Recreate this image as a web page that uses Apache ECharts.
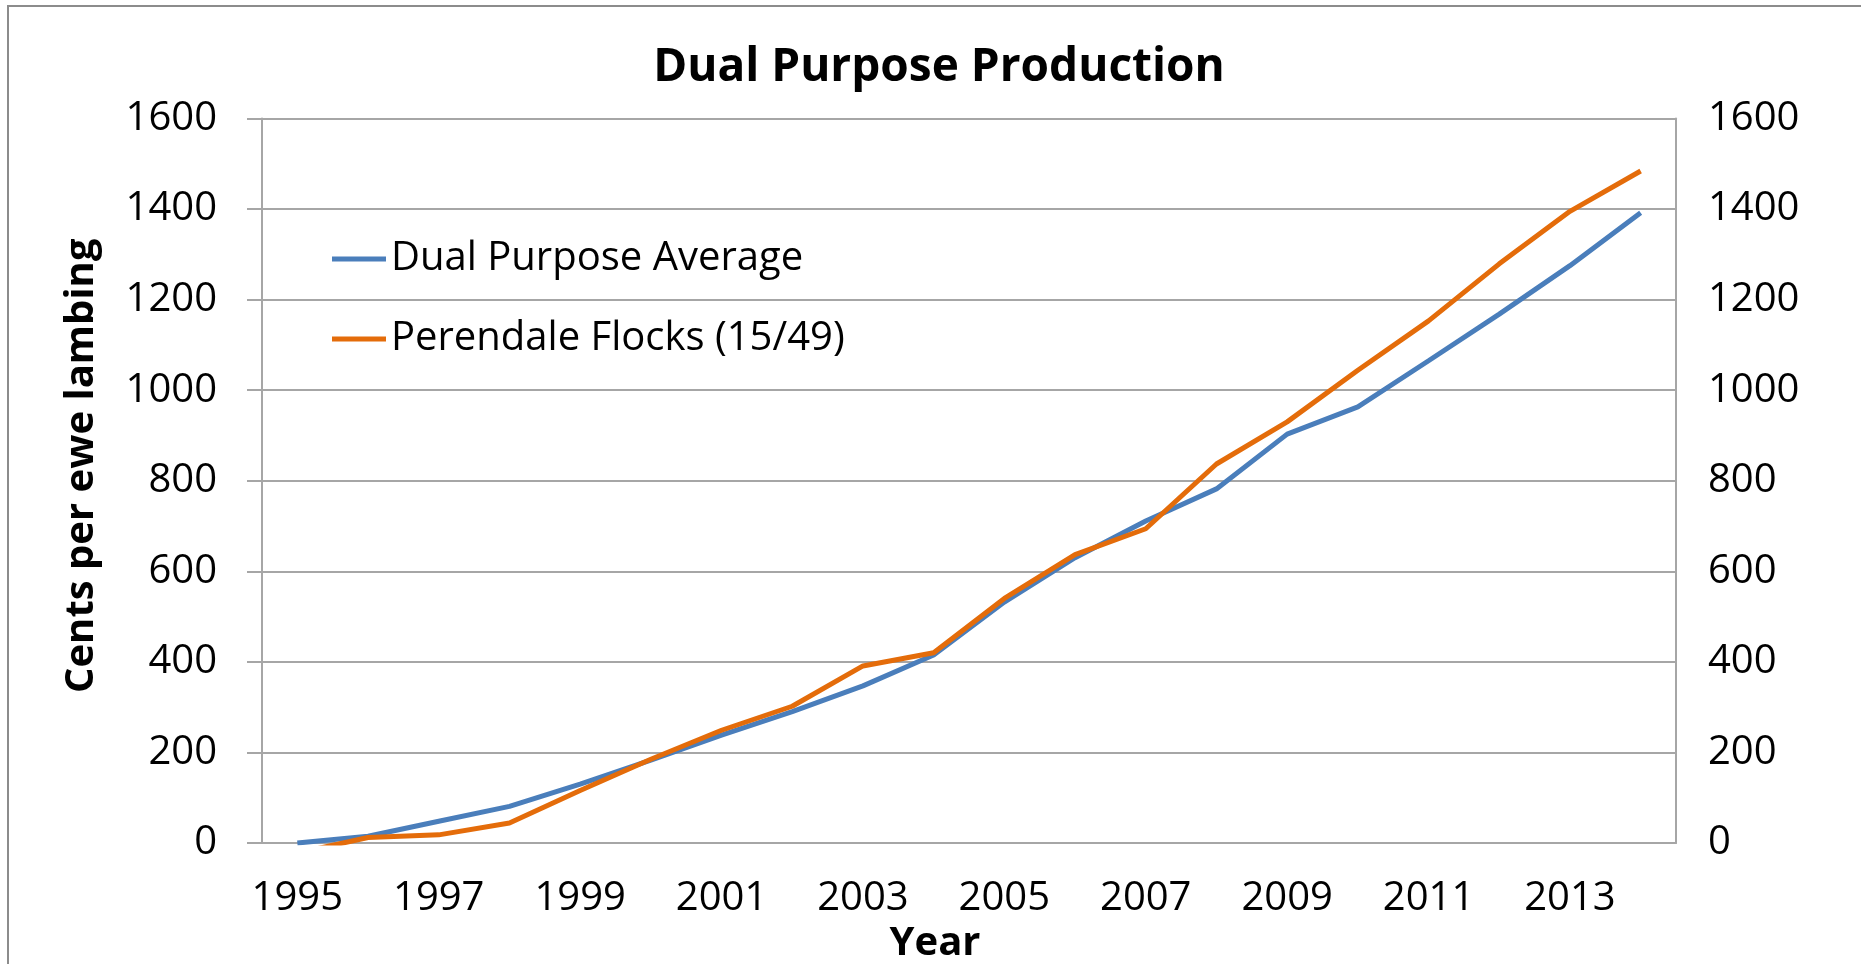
<!DOCTYPE html>
<html>
<head>
<meta charset="utf-8">
<title>Dual Purpose Production</title>
<script src="https://cdn.jsdelivr.net/npm/echarts@6/dist/echarts.min.js"></script>
<style>
  html, body { margin: 0; padding: 0; background: #fff; }
  #myChart { width: 1861px; height: 964px; }
</style>
</head>
<body>
<div id="myChart"></div>
<script>
  var years = ['1995', '1996', '1997', '1998', '1999', '2000', '2001', '2002', '2003', '2004',
    '2005', '2006', '2007', '2008', '2009', '2010', '2011', '2012', '2013', '2014'];
  var dualPurposeAvg = [0, 15, 48, 81, 130, 183, 238, 290, 347, 415,
    532, 630, 711, 782, 903, 963, 1065, 1168, 1275, 1392];
  // first point sits just under the axis, the line is clipped at 0
  var perendaleFlocks = [-22, 12, 18, 44, 116, 185, 249, 302, 391, 420,
    540, 637, 694, 837, 930, 1044, 1153, 1279, 1395, 1484];
  var yTicks = [0, 200, 400, 600, 800, 1000, 1200, 1400, 1600];

  var font = '"Open Sans"';
  var gridColor = '#a6a6a6';

  // plain numbers, no thousands separator
  function plain(v) { return String(v); }

  var myChart = echarts.init(document.getElementById('myChart'));
  var option = {
    backgroundColor: '#fff',
    animation: false,
    title: {
      text: 'Dual Purpose Production',
      left: 934,
      textAlign: 'center',
      top: 40,
      textStyle: { fontFamily: font, fontWeight: 'bold', fontSize: 46, color: '#000' }
    },
    graphic: [{
      type: 'rect',
      shape: { x: 8, y: 6, width: 1900, height: 1000 },
      style: { fill: 'none', stroke: '#8c8c8c', lineWidth: 2 },
      silent: true
    }],
    legend: {
      orient: 'vertical',
      left: 327,
      top: 233,
      icon: 'rect',
      itemWidth: 54,
      itemHeight: 5,
      itemGap: 38,
      data: ['Dual Purpose Average', 'Perendale Flocks (15/49)'],
      textStyle: { fontFamily: font, fontSize: 40, color: '#000', lineHeight: 42 }
    },
    grid: {
      left: 262,
      right: 185,
      top: 118.5,
      bottom: 121,
      outerBoundsMode: 'none',
      containLabel: false
    },
    xAxis: {
      type: 'category',
      data: years,
      boundaryGap: true,
      name: 'Year',
      nameLocation: 'middle',
      nameGap: 66,
      nameTextStyle: { fontFamily: font, fontWeight: 'bold', fontSize: 40, color: '#000', padding: [0, 68, 0, 0] },
      axisLine: { show: true, lineStyle: { color: gridColor, width: 2 } },
      axisTick: { show: false },
      axisLabel: { interval: 1, margin: 36, fontFamily: font, fontSize: 40, color: '#000' }
    },
    yAxis: [{
      type: 'value',
      position: 'left',
      min: yTicks[0],
      max: yTicks[yTicks.length - 1],
      interval: 200,
      name: 'Cents per ewe lambing',
      nameLocation: 'middle',
      nameGap: 160,
      nameTextStyle: { fontFamily: font, fontWeight: 'bold', fontSize: 40, color: '#000', padding: [0, 0, 0, 30] },
      axisLine: { show: true, lineStyle: { color: gridColor, width: 2 } },
      axisTick: { show: true, inside: false, length: 15, lineStyle: { color: gridColor, width: 2 } },
      splitLine: { show: true, lineStyle: { color: gridColor, width: 2 } },
      axisLabel: { margin: 45, fontFamily: font, fontSize: 40, color: '#000', formatter: plain }
    }, {
      type: 'value',
      position: 'right',
      min: yTicks[0],
      max: yTicks[yTicks.length - 1],
      interval: 200,
      axisLine: { show: true, lineStyle: { color: gridColor, width: 2 } },
      axisTick: { show: false },
      splitLine: { show: false },
      axisLabel: { margin: 32, fontFamily: font, fontSize: 40, color: '#000', formatter: plain }
    }],
    series: [{
      name: 'Dual Purpose Average',
      type: 'line',
      data: dualPurposeAvg,
      symbol: 'none',
      clip: true,
      itemStyle: { color: '#4a7ebb' },
      lineStyle: { color: '#4a7ebb', width: 5 }
    }, {
      name: 'Perendale Flocks (15/49)',
      type: 'line',
      data: perendaleFlocks,
      symbol: 'none',
      clip: true,
      itemStyle: { color: '#e46c0a' },
      lineStyle: { color: '#e46c0a', width: 5 }
    }]
  };
  myChart.setOption(option);
</script>
</body>
</html>
